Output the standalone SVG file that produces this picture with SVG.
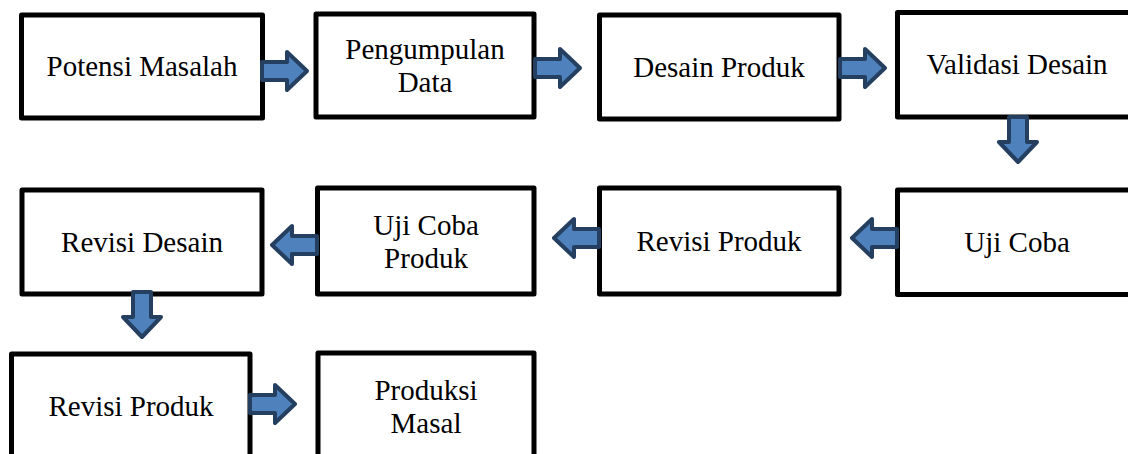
<svg xmlns="http://www.w3.org/2000/svg" width="1128" height="454" viewBox="0 0 1128 454">
<style>
.box{fill:#fff;stroke:#000;stroke-width:5;stroke-linejoin:round}
.lbl{font-family:'Liberation Serif','Times New Roman',serif;font-size:29px;fill:#000;text-anchor:middle}
.arr{fill:#4F81BD;stroke:#243F60;stroke-width:4;stroke-linejoin:round}
</style>
<defs>
<path id="ar" d="M0,-9 H25 V-19 L45,0 L25,19 V9 H0 Z"/>
</defs>
<rect width="1128" height="454" fill="#fff"/>
<g id="n1"><rect class="box" x="21.5" y="15" width="241" height="103"/><text class="lbl" x="142" y="76">Potensi Masalah</text></g>
<g id="n2"><rect class="box" x="316" y="14" width="218" height="103"/><text class="lbl" x="425" y="59">Pengumpulan</text><text class="lbl" x="425" y="92">Data</text></g>
<g id="n3"><rect class="box" x="599.5" y="15" width="239.5" height="104"/><text class="lbl" x="719" y="77">Desain Produk</text></g>
<g id="n4"><rect class="box" x="897.5" y="12.5" width="240" height="104.5"/><text class="lbl" x="1017" y="74">Validasi Desain</text></g>
<g id="n5"><rect class="box" x="897.5" y="190" width="240" height="104.5"/><text class="lbl" x="1017" y="252">Uji Coba</text></g>
<g id="n6"><rect class="box" x="599.5" y="188" width="239.5" height="106"/><text class="lbl" x="719" y="251">Revisi Produk</text></g>
<g id="n7"><rect class="box" x="317.5" y="188" width="216.5" height="106"/><text class="lbl" x="426" y="235">Uji Coba</text><text class="lbl" x="426" y="268">Produk</text></g>
<g id="n8"><rect class="box" x="22" y="190" width="240" height="104"/><text class="lbl" x="142" y="252">Revisi Desain</text></g>
<g id="n9"><rect class="box" x="11.5" y="354" width="238.5" height="106"/><text class="lbl" x="131" y="416">Revisi Produk</text></g>
<g id="n10"><rect class="box" x="318" y="353" width="216" height="107"/><text class="lbl" x="426" y="400">Produksi</text><text class="lbl" x="426" y="433">Masal</text></g>
<g id="connectors">
<use href="#ar" class="arr" transform="translate(262,71)"/>
<use href="#ar" class="arr" transform="translate(535,68)"/>
<use href="#ar" class="arr" transform="translate(840,68)"/>
<use href="#ar" class="arr" transform="translate(1018,117) rotate(90)"/>
<use href="#ar" class="arr" transform="translate(897,238) rotate(180)"/>
<use href="#ar" class="arr" transform="translate(599,238) rotate(180)"/>
<use href="#ar" class="arr" transform="translate(317,245) rotate(180)"/>
<use href="#ar" class="arr" transform="translate(142,292) rotate(90)"/>
<use href="#ar" class="arr" transform="translate(250,404)"/>
</g>
</svg>
